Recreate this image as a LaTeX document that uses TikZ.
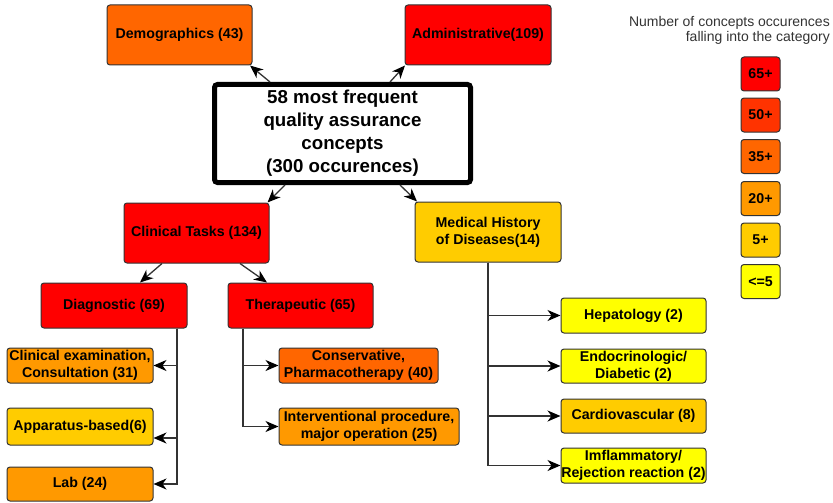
\documentclass[tikz,border=0pt]{standalone}
\usepackage{fontspec}
\setmainfont{Liberation Sans}
\usetikzlibrary{arrows.meta}
\definecolor{c65}{HTML}{FF0000}
\definecolor{c50}{HTML}{FF3300}
\definecolor{c35}{HTML}{FF6600}
\definecolor{c20}{HTML}{FF9900}
\definecolor{c5}{HTML}{FFCC00}
\definecolor{c0}{HTML}{FFFF00}
\definecolor{edge}{HTML}{333333}
\tikzset{
  box/.style={draw=edge, line width=1pt, rounded corners=3pt, inner sep=0pt,
    align=center, text=black, font=\fontsize{14.2}{17}\selectfont\bfseries},
  leg/.style={box, minimum width=39pt, minimum height=34pt},
  conn/.style={draw=edge, line width=1.3pt},
}
\begin{document}
\begin{tikzpicture}[x=1pt,y=-1pt]
\useasboundingbox (0,0) rectangle (833,503);
% main
\node[draw=black, line width=5pt, rounded corners=3pt, minimum width=256pt, minimum height=98pt,
  align=center, inner sep=0pt, font=\fontsize{18.7}{23}\selectfont\bfseries] (core) at (342.5,133.5)
  {58 most frequent\\quality assurance\\concepts\\(300 occurences)};
\node[box, fill=c35, minimum width=145pt, minimum height=60pt] (demo) at (179.5,35) {Demographics (43)};
\node[box, fill=c65, minimum width=146pt, minimum height=60pt] (admin) at (478,35) {Administrative(109)};
\node[box, fill=c65, minimum width=145pt, minimum height=60pt] (clin) at (196.5,233) {Clinical Tasks (134)};
\node[box, fill=c5, minimum width=146pt, minimum height=60pt] (med) at (488,232) {Medical History\\of Diseases(14)};
\node[box, fill=c65, minimum width=146pt, minimum height=45pt] (diag) at (114,305.5) {Diagnostic (69)};
\node[box, fill=c65, minimum width=145pt, minimum height=45pt] (thera) at (300.5,305.5) {Therapeutic (65)};
\node[box, fill=c20, minimum width=146pt, minimum height=35pt] (exam) at (80,365.5) {Clinical examination,\\Consultation (31)};
\node[box, fill=c5, minimum width=146pt, minimum height=37pt] (app) at (80,426.5) {Apparatus-based(6)};
\node[box, fill=c20, minimum width=146pt, minimum height=34pt] (lab) at (80,484) {Lab (24)};
\node[box, fill=c35, minimum width=159pt, minimum height=35pt] (cons) at (358.5,365.5) {Conservative,\\Pharmacotherapy (40)};
\node[box, fill=c20, minimum width=180pt, minimum height=37pt] (interv) at (369,426.5) {Interventional procedure,\\major operation (25)};
\node[box, fill=c0, minimum width=145pt, minimum height=35pt] (hep) at (633.5,315.5) {Hepatology (2)};
\node[box, fill=c0, minimum width=145pt, minimum height=34pt] (endo) at (633.5,366) {Endocrinologic/\\Diabetic (2)};
\node[box, fill=c5, minimum width=145pt, minimum height=34pt] (cardio) at (633.5,416) {Cardiovascular (8)};
\node[box, fill=c0, minimum width=145pt, minimum height=35pt] (infl) at (633.5,465.5) {Imflammatory/\\Rejection reaction (2)};
% legend
\node[anchor=east, align=right, text=edge, inner sep=0pt, font=\fontsize{14}{15.5}\selectfont] (legtitle) at (830,30.5)
  {Number of concepts occurences\\falling into the category};
\node[leg, fill=c65] (l65) at (760.5,74) {65+};
\node[leg, fill=c50] (l50) at (760.5,115) {50+};
\node[leg, fill=c35] (l35) at (760.5,156.5) {35+};
\node[leg, fill=c20] (l20) at (760.5,198.5) {20+};
\node[leg, fill=c5] (l5) at (760.5,240) {5+};
\node[leg, fill=c0] (l0) at (760.5,281.5) {<=5};
% connectors
\begin{scope}[>={Stealth[length=13pt,width=11pt,inset=4pt,color=black]}]
\draw[conn,->] ([xshift=-72.5pt]core.north) -- ([xshift=70.5pt]demo.south);
\draw[conn,->] ([xshift=47.5pt]core.north) -- ([xshift=-73pt]admin.south);
\draw[conn,->] ([xshift=-57.5pt]core.south) -- ([xshift=71pt]clin.north);
\draw[conn,->] ([xshift=57.5pt]core.south) -- ([xshift=-71pt]med.north);
\draw[conn,->] ([xshift=-34.5pt]clin.south) -- ([xshift=26pt]diag.north);
\draw[conn,->] ([xshift=43.5pt]clin.south) -- ([xshift=-33.5pt]thera.north);
\draw[conn,->] ([xshift=63pt]diag.south) |- (exam.east);
\draw[conn,->] ([xshift=63pt]diag.south) |- ([yshift=-11.5pt]app.east);
\draw[conn,->] ([xshift=63pt]diag.south) |- (lab.east);
\draw[conn,->] ([xshift=-57.5pt]thera.south) |- (cons.west);
\draw[conn,->] ([xshift=-57.5pt]thera.south) |- (interv.west);
\draw[conn,->] (med.south) |- (hep.west);
\draw[conn,->] (med.south) |- (endo.west);
\draw[conn,->] (med.south) |- (cardio.west);
\draw[conn,->] (med.south) |- (infl.west);
\end{scope}
\end{tikzpicture}
\end{document}
